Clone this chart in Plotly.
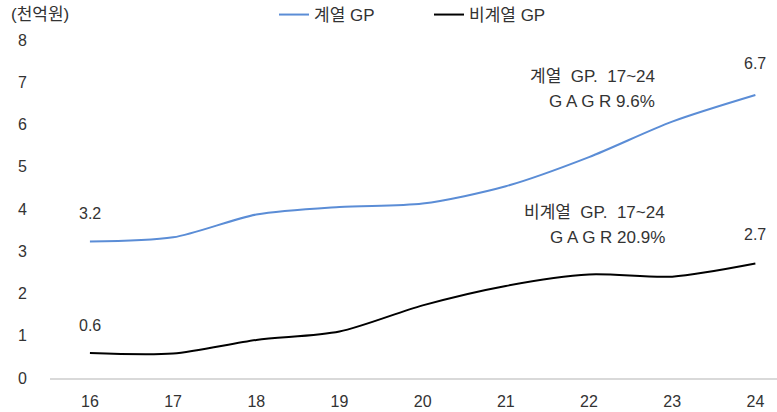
import plotly.graph_objects as go

years = [16, 17, 18, 19, 20, 21, 22, 23, 24]
year_labels = ["16", "17", "18", "19", "20", "21", "22", "23", "24"]
affiliated_gp = [3.23, 3.33, 3.87, 4.05, 4.13, 4.54, 5.23, 6.07, 6.7]
non_affiliated_gp = [0.59, 0.58, 0.9, 1.1, 1.72, 2.18, 2.45, 2.4, 2.71]
series_names = ["계열 GP", "비계열 GP"]
y_ticks = [0, 1, 2, 3, 4, 5, 6, 7, 8]

FONT = "Liberation Sans, Noto Sans CJK KR, sans-serif"
TXT = "#333333"

W, H = 777, 412
ML, MR, MT, MB = 50, 0, 30, 34
pw, ph = W - ML - MR, H - MT - MB

fig = go.Figure()
fig.add_trace(go.Scatter(x=years, y=affiliated_gp, name=series_names[0], mode="lines",
                         line=dict(color="#5B8DD6", width=2, shape="spline", smoothing=0.8)))
fig.add_trace(go.Scatter(x=years, y=non_affiliated_gp, name=series_names[1], mode="lines",
                         line=dict(color="#000000", width=2, shape="spline", smoothing=0.8)))

annotations = []
for x, y, t, ys in [(years[0], affiliated_gp[0], "3.2", 28),
                    (years[0], non_affiliated_gp[0], "0.6", 28),
                    (years[-1], affiliated_gp[-1], "6.7", 32),
                    (years[-1], non_affiliated_gp[-1], "2.7", 29)]:
    annotations.append(dict(x=x, y=y, xref="x", yref="y", text=t, showarrow=False,
                            yshift=ys, font=dict(family=FONT, size=16, color=TXT)))

def px_ann(px, py, text, anchor, size=17):
    return dict(x=(px - ML) / pw, y=(H - MB - py) / ph, xref="paper", yref="paper",
                text=text, showarrow=False, xanchor=anchor, yanchor="middle",
                font=dict(family=FONT, size=size, color=TXT))

annotations += [
    px_ann(657, 76, "계열  GP.  17~24", "right"),
    px_ann(657, 102, "G A G R 9.6%", "right"),
    px_ann(667, 212, "비계열  GP.  17~24", "right"),
    px_ann(667, 237, "G A G R 20.9%", "right"),
    px_ann(9, 15, "(천억원)", "left", 17),
]

fig.update_layout(
    width=W, height=H,
    margin=dict(l=ML, r=MR, t=MT, b=MB, autoexpand=False),
    plot_bgcolor="white", paper_bgcolor="white",
    font=dict(family=FONT, size=16, color=TXT),
    showlegend=True,
    legend=dict(orientation="h", x=(274 - ML) / pw, xanchor="left",
                y=(H - MB - 15) / ph, yanchor="middle",
                font=dict(family=FONT, size=17, color=TXT),
                entrywidth=110, entrywidthmode="pixels",
                bgcolor="rgba(0,0,0,0)"),
    annotations=annotations,
    xaxis=dict(range=[15.52, 24.26], tickmode="array", tickvals=years, ticktext=year_labels,
               showgrid=False, zeroline=False, showline=True, linecolor="#D9D9D9", linewidth=2,
               ticks="", automargin=False, ticklabelstandoff=8,
               tickfont=dict(family=FONT, size=16, color=TXT), fixedrange=True),
    yaxis=dict(range=[0, 8.24], tickmode="array", tickvals=y_ticks,
               showgrid=False, zeroline=False, showline=False, ticks="",
               ticklabelstandoff=22, automargin=False,
               tickfont=dict(family=FONT, size=16, color=TXT), fixedrange=True),
)

fig.write_html("out.html", config={"displayModeBar": False},
               post_script="document.body.style.margin='0';document.body.style.padding='0';")
